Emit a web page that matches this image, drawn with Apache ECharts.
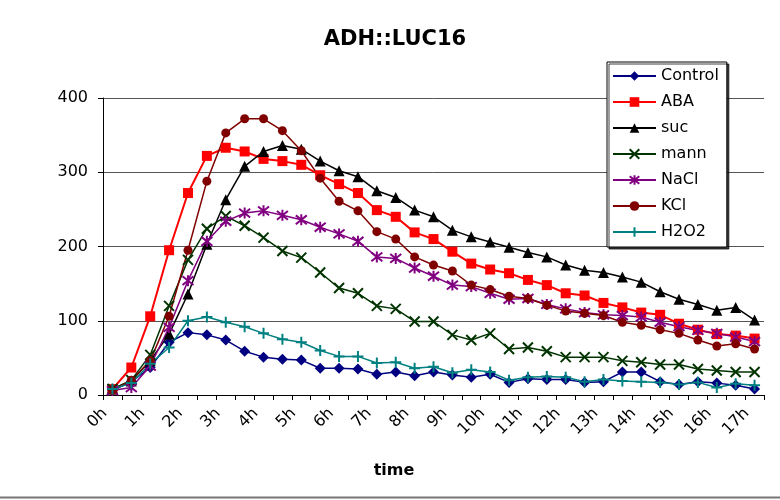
<!DOCTYPE html>
<html>
<head>
<meta charset="utf-8">
<script src="https://cdn.jsdelivr.net/npm/echarts@6/dist/echarts.min.js"></script>
<style>html,body{margin:0;padding:0;background:#fff}#c{width:780px;height:500px}</style>
</head>
<body>
<div id="c"></div>
<script>
// categories: half-hour time points, 0h .. 17h
const categories = ['0h','0.5h','1h','1.5h','2h','2.5h','3h','3.5h','4h','4.5h','5h','5.5h','6h','6.5h','7h','7.5h','8h','8.5h','9h','9.5h','10h','10.5h','11h','11.5h','12h','12.5h','13h','13.5h','14h','14.5h','15h','15.5h','16h','16.5h','17h'];
const yTicks = [0, 100, 200, 300, 400];

const control = [6,18,37,71,84,81,74,59,51,48,47,36,36,35,28,31,26,31,27,24,28,17,22,21,21,17,18,31,31,18,14,18,16,13,8];
const aba     = [8,37,106,195,272,322,333,328,318,315,310,296,284,272,249,240,219,210,193,177,169,164,155,148,137,134,124,118,111,108,96,88,82,80,76];
const suc     = [8,19,46,82,136,203,263,308,328,336,331,315,302,294,275,266,249,240,222,213,206,199,192,186,175,168,165,159,152,139,129,122,114,118,101];
const mann    = [8,20,54,120,182,224,241,228,212,194,185,165,144,137,120,116,99,99,81,74,83,62,64,59,51,51,51,46,44,41,41,35,33,31,31];
const nacl    = [6,10,39,91,154,207,234,245,248,242,236,226,217,207,186,184,171,160,148,146,137,129,130,122,116,111,108,107,105,98,92,87,83,78,72];
const kcl     = [6,20,46,106,195,288,353,372,372,356,329,292,261,248,220,210,186,175,167,148,142,133,130,121,113,110,107,98,94,88,83,74,66,69,62];
const h2o2    = [8,16,42,64,100,105,98,92,83,75,71,60,52,52,43,44,36,38,30,34,31,20,24,25,24,18,21,19,18,17,14,17,10,15,13];

const FONT = 'DejaVu Sans';
function mk(name, data, color, symbol, size, lw, stroke) {
  return {
    name, type: 'line', data,
    symbol, symbolSize: size,
    lineStyle: { color, width: lw },
    itemStyle: { color, borderColor: color, borderWidth: stroke ? 2 : 0 },
    emphasis: { disabled: true },
    animation: false
  };
}
const X = 'path://M0,0L10,10M10,0L0,10';
const STAR = 'path://M1,1L9,9M9,1L1,9M5,0L5,10';
const PLUS = 'path://M5,0L5,10M0,5L10,5';

const chart = echarts.init(document.getElementById('c'));
chart.setOption({
  backgroundColor: '#fff',
  animation: false,
  title: [
    { text: 'ADH::LUC16', left: 390, top: 24, textAlign: 'center',
      textStyle: { fontFamily: FONT, fontSize: 21, fontWeight: 'bold', color: '#000' } },
    { text: 'time', left: 389, top: 458, textAlign: 'center',
      textStyle: { fontFamily: FONT, fontSize: 16, fontWeight: 'bold', color: '#000' } }
  ],
  legend: {
    orient: 'vertical', left: 607, top: 62,
    padding: [5, 8, 6, 5],
    itemWidth: 43, itemHeight: 12, itemGap: 8,
    backgroundColor: '#fff', borderColor: '#000', borderWidth: 1,
    shadowColor: 'rgba(0,0,0,0.75)', shadowOffsetX: 2, shadowOffsetY: 2, shadowBlur: 0,
    textStyle: { fontFamily: FONT, fontSize: 16, color: '#000', lineHeight: 18 },
    data: ['Control','ABA','suc','mann','NaCl','KCl','H2O2']
  },
  grid: { left: 103, right: 16, top: 98, bottom: 105, containLabel: false },
  xAxis: {
    type: 'category', data: categories, boundaryGap: true,
    axisLine: { lineStyle: { color: '#000', width: 1 } },
    axisTick: { show: true, interval: 0, length: 5, lineStyle: { color: '#000' } },
    axisLabel: { interval: 1, rotate: 45, margin: 8, padding: [0, 11, 0, 0], fontFamily: FONT, fontSize: 16, color: '#000' },
    splitLine: { show: false }
  },
  yAxis: {
    type: 'value', min: yTicks[0], max: yTicks[yTicks.length - 1], interval: 100,
    axisLine: { show: true, lineStyle: { color: '#000', width: 1 } },
    axisTick: { show: true, length: 5, lineStyle: { color: '#000' } },
    axisLabel: { margin: 15, fontFamily: FONT, fontSize: 16, color: '#000' },
    splitLine: { show: true, lineStyle: { color: '#555', width: 1 } }
  },
  graphic: [
    { type: 'line', shape: { x1: 0, y1: 497.5, x2: 780, y2: 497.5 }, style: { stroke: '#777', lineWidth: 2 }, silent: true }
  ],
  series: [
    mk('Control', control, '#000080', 'diamond', 11, 1.5, false),
    mk('ABA', aba, '#FF0000', 'rect', 10, 2, false),
    mk('suc', suc, '#000000', 'triangle', 11, 1.5, false),
    mk('mann', mann, '#003300', X, 10, 1.5, true),
    mk('NaCl', nacl, '#800080', STAR, 11, 1.5, true),
    mk('KCl', kcl, '#800000', 'circle', 9, 1.5, false),
    mk('H2O2', h2o2, '#008080', PLUS, 11, 1.5, true)
  ]
});
</script>
</body>
</html>
